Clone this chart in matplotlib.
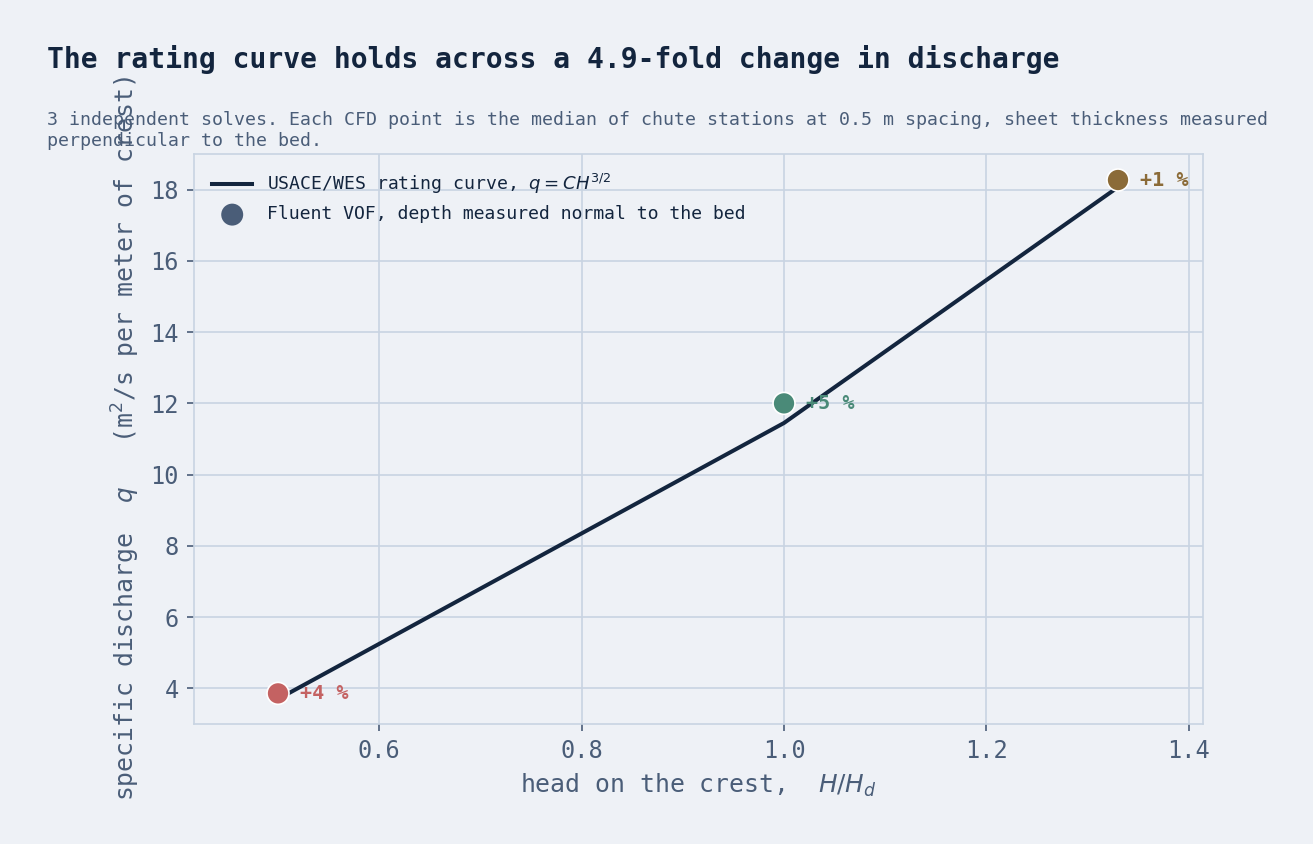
import numpy as np
import matplotlib
matplotlib.use("Agg")
import matplotlib.pyplot as plt

# data
head_ratio = [0.5, 1.0, 1.33]
rating_q = [3.70, 11.45, 18.07]
cfd_q = [3.86, 12.0, 18.27]
dev_labels = ["+4 %", "+5 %", "+1 %"]
point_colors = ["#c46262", "#4a8a78", "#8b6b38"]

BG = "#eef1f6"
INK = "#13253e"
SLATE = "#4a5d78"
GRIDC = "#c8d4e2"

plt.rcParams["font.family"] = ["DejaVu Sans Mono", "DejaVu Sans"]
plt.rcParams["mathtext.fontset"] = "dejavusans"

fig = plt.figure(figsize=(13.13, 8.44), dpi=100, facecolor=BG)
ax = fig.add_axes([194 / 1313, 1 - 724 / 844, (1203 - 194) / 1313, (724 - 154) / 844])
ax.set_facecolor(BG)

ax.plot(head_ratio, rating_q, color=INK, lw=2.9, zorder=3,
        label=r"USACE/WES rating curve, $q = CH^{3/2}$")
ax.scatter(head_ratio, cfd_q, s=250, c=point_colors, edgecolors="white",
           linewidths=1.2, zorder=4)
# proxy handle for the legend
ax.scatter([], [], s=250, c=SLATE, edgecolors="none",
           label="Fluent VOF, depth measured normal to the bed")

for x, y, lab, c in zip(head_ratio, cfd_q, dev_labels, point_colors):
    ax.annotate(lab, (x, y), xytext=(16, 0), textcoords="offset points",
                va="center", ha="left", color=c, fontsize=14.5, fontweight="bold")

ax.set_xlim(0.417, 1.414)
ax.set_ylim(3.0, 19.0)
ax.set_xticks([0.6, 0.8, 1.0, 1.2, 1.4])
ax.set_yticks([4, 6, 8, 10, 12, 14, 16, 18])

ax.grid(True, color=GRIDC, lw=1.2)
ax.set_axisbelow(True)
for s in ax.spines.values():
    s.set_color(GRIDC)
    s.set_linewidth(1.2)
ax.tick_params(colors=SLATE, labelsize=17, length=5, width=1.2, pad=6)

ax.set_xlabel(r"head on the crest,  $H/H_d$", fontsize=17.8, color=SLATE, labelpad=6)
ax.set_ylabel(r"specific discharge  $q$   (m$^2$/s per meter of crest)",
              fontsize=17.8, color=SLATE, labelpad=6)

leg = ax.legend(loc="upper left", frameon=False, fontsize=13.1, labelcolor=INK,
                handlelength=2.2, borderaxespad=0.6)

fig.text(47 / 1313, 1 - 60 / 844,
         "The rating curve holds across a 4.9-fold change in discharge",
         fontsize=20.2, fontweight="bold", color=INK, va="center", ha="left")
fig.text(47 / 1313, 1 - 111 / 844,
         "3 independent solves. Each CFD point is the median of chute stations at 0.5 m spacing, sheet thickness measured\nperpendicular to the bed.",
         fontsize=13.15, color=SLATE, va="top", ha="left", linespacing=1.2)

fig.savefig("out.png", dpi=100, facecolor=BG)
